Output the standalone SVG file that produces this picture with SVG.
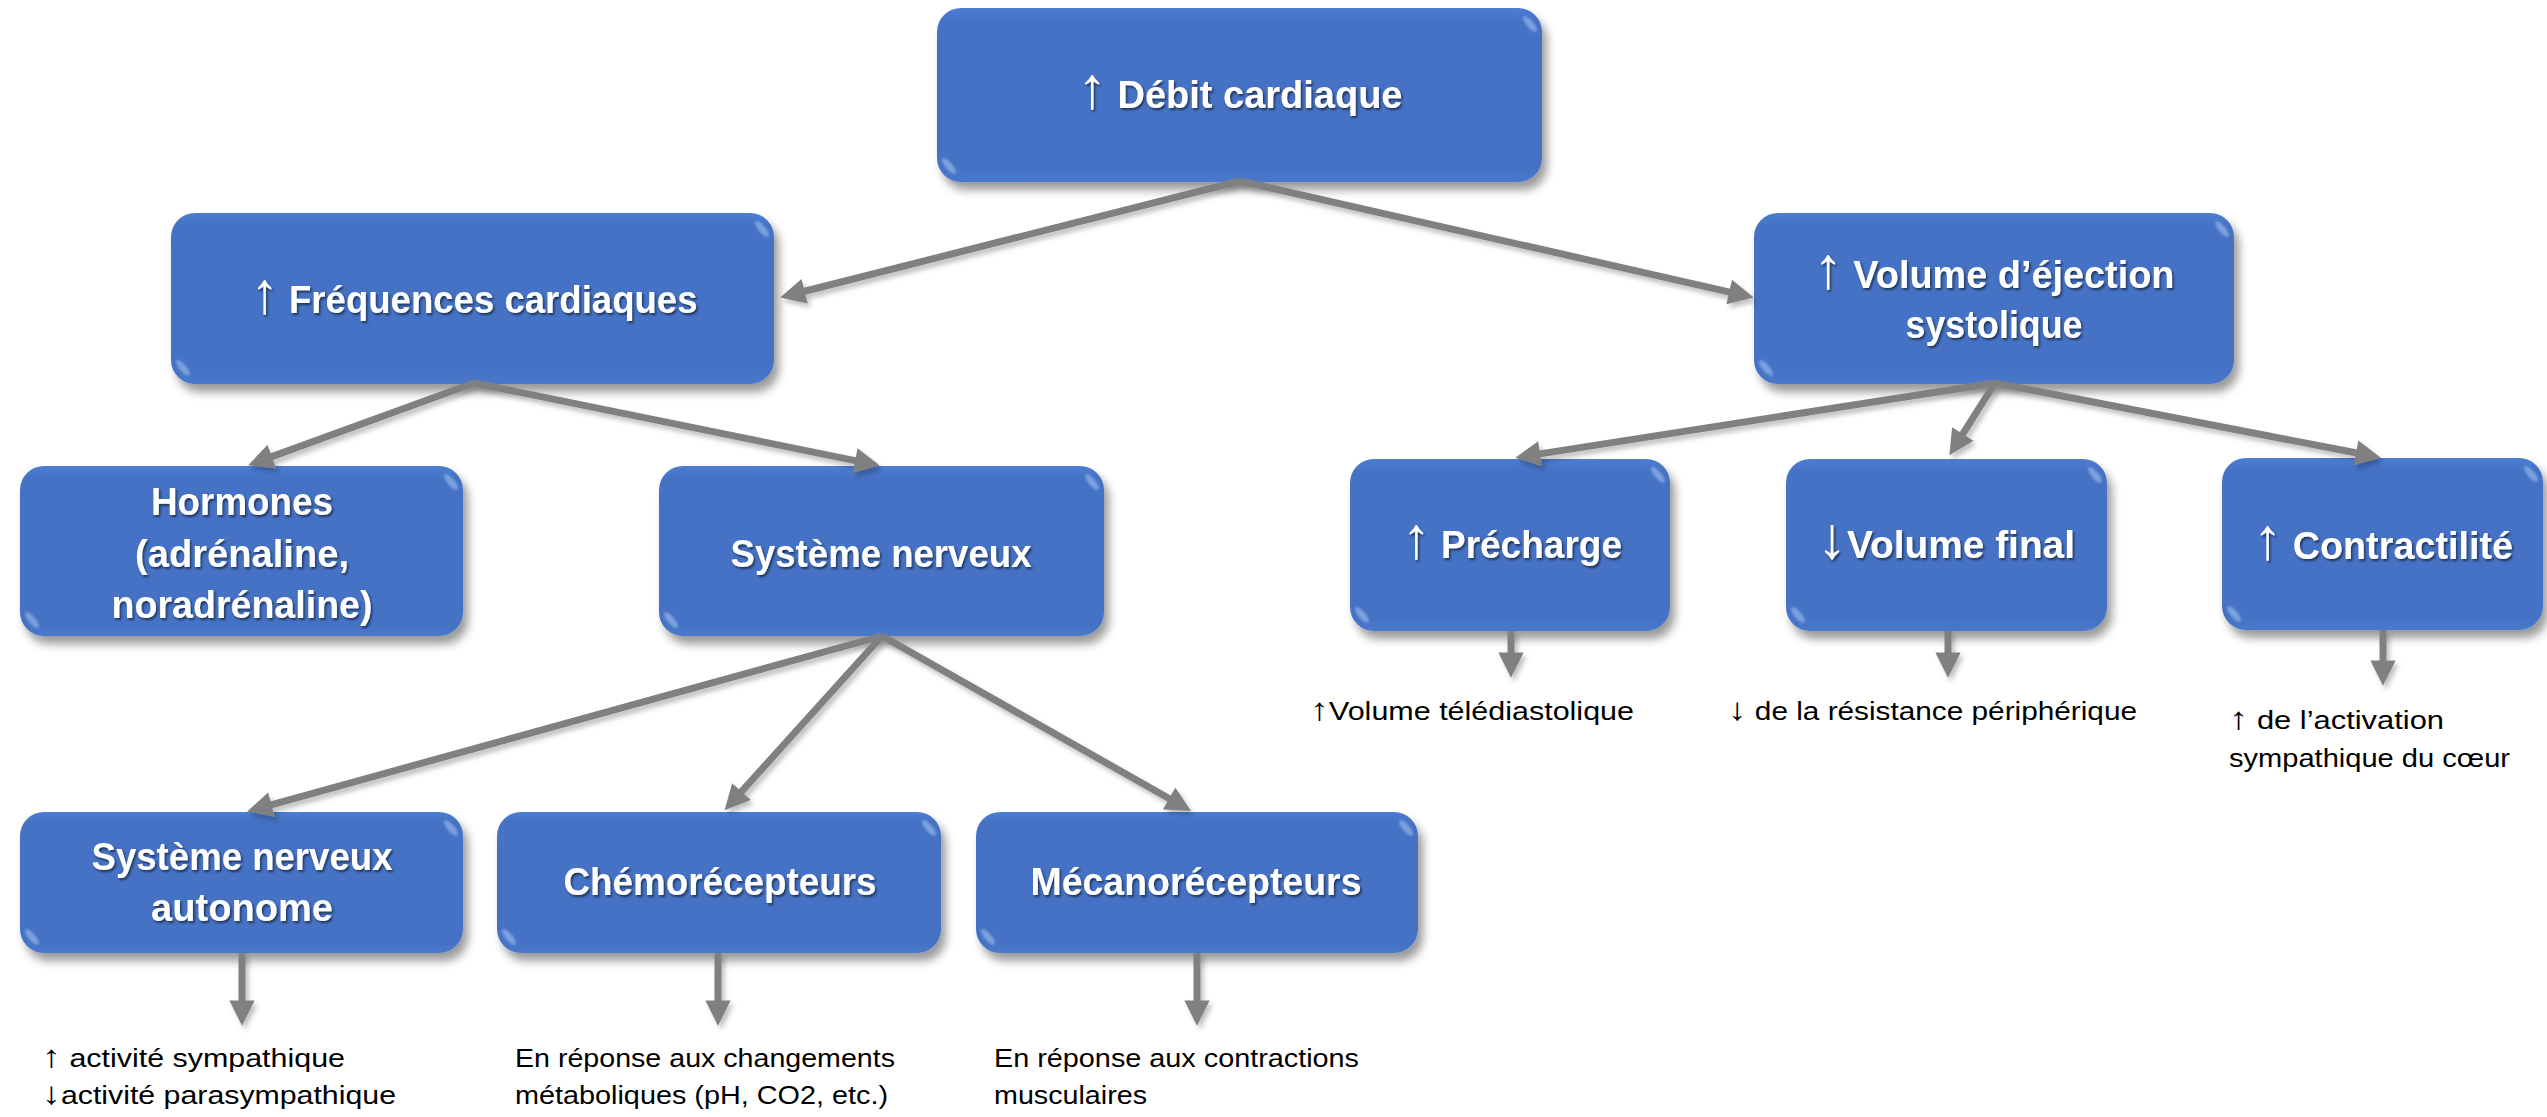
<svg xmlns="http://www.w3.org/2000/svg" width="2547" height="1117" viewBox="0 0 2547 1117">
<defs>
<style>
.box{fill:url(#boxGrad);filter:url(#boxShadow);}
.glint{fill:#a9c8f5;opacity:0.55;filter:url(#soft);}
.lbl{font-family:"Liberation Sans",Arial,sans-serif;font-weight:bold;font-size:38px;fill:#ffffff;text-anchor:middle;filter:url(#txtShadow);}
.note{font-family:"Liberation Sans",Arial,sans-serif;font-size:25px;fill:#000000;}
.ar{font-family:"Liberation Sans",sans-serif;font-weight:normal;font-size:155%;}
.ars{font-family:"Liberation Sans",sans-serif;font-size:125%;}
.conn{stroke:#808080;stroke-width:7;fill:none;marker-end:url(#arr);}
</style>
<linearGradient id="boxGrad" x1="0" y1="0" x2="0" y2="1">
<stop offset="0" stop-color="#4d7dd3"/>
<stop offset="0.07" stop-color="#4472c4"/>
<stop offset="0.93" stop-color="#4472c4"/>
<stop offset="1" stop-color="#4a79cc"/>
</linearGradient>
<filter id="boxShadow" x="-10%" y="-10%" width="125%" height="135%">
<feGaussianBlur in="SourceAlpha" stdDeviation="5"/>
<feOffset dx="5" dy="8" result="o"/>
<feComponentTransfer><feFuncA type="linear" slope="0.4"/></feComponentTransfer>
<feMerge><feMergeNode/><feMergeNode in="SourceGraphic"/></feMerge>
</filter>
<filter id="txtShadow" x="-5%" y="-20%" width="110%" height="150%">
<feDropShadow dx="1.5" dy="2" stdDeviation="1" flood-color="#000000" flood-opacity="0.55"/>
</filter>
<filter id="lineShadow" x="-5%" y="-5%" width="110%" height="115%">
<feDropShadow dx="3" dy="4" stdDeviation="2.5" flood-color="#000000" flood-opacity="0.25"/>
</filter>
<filter id="soft"><feGaussianBlur stdDeviation="1.2"/></filter>
<marker id="arr" viewBox="0 0 10 10" refX="2" refY="5" markerWidth="4" markerHeight="3.6" markerUnits="strokeWidth" orient="auto">
<path d="M0,0 L10,5 L0,10 z" fill="#808080"/>
</marker>
</defs>
<rect width="2547" height="1117" fill="#ffffff"/>

<g id="n-debit">
<rect class="box" x="937" y="8" width="605" height="174" rx="24"/>
<ellipse class="glint" cx="1530" cy="24" rx="3.5" ry="10" transform="rotate(-40 1530 24)"/>
<ellipse class="glint" cx="949" cy="166" rx="3.5" ry="10" transform="rotate(-40 949 166)"/>
<text class="lbl" x="1240" y="108" textLength="325" lengthAdjust="spacingAndGlyphs"><tspan class="ar">↑</tspan> Débit cardiaque</text>
</g>
<g id="n-frequences">
<rect class="box" x="171" y="213" width="603" height="171" rx="24"/>
<ellipse class="glint" cx="762" cy="229" rx="3.5" ry="10" transform="rotate(-40 762 229)"/>
<ellipse class="glint" cx="183" cy="368" rx="3.5" ry="10" transform="rotate(-40 183 368)"/>
<text class="lbl" x="474" y="313" textLength="447" lengthAdjust="spacingAndGlyphs"><tspan class="ar">↑</tspan> Fréquences cardiaques</text>
</g>
<g id="n-volume">
<rect class="box" x="1754" y="213" width="480" height="171" rx="24"/>
<ellipse class="glint" cx="2222" cy="229" rx="3.5" ry="10" transform="rotate(-40 2222 229)"/>
<ellipse class="glint" cx="1766" cy="368" rx="3.5" ry="10" transform="rotate(-40 1766 368)"/>
<text class="lbl" x="1994" y="288" textLength="361" lengthAdjust="spacingAndGlyphs"><tspan class="ar">↑</tspan> Volume d’éjection</text>
<text class="lbl" x="1994" y="338" textLength="177" lengthAdjust="spacingAndGlyphs">systolique</text>
</g>
<g id="n-hormones">
<rect class="box" x="20" y="466" width="443" height="170" rx="24"/>
<ellipse class="glint" cx="451" cy="482" rx="3.5" ry="10" transform="rotate(-40 451 482)"/>
<ellipse class="glint" cx="32" cy="620" rx="3.5" ry="10" transform="rotate(-40 32 620)"/>
<text class="lbl" x="242" y="515" textLength="182" lengthAdjust="spacingAndGlyphs">Hormones</text>
<text class="lbl" x="242" y="567" textLength="214" lengthAdjust="spacingAndGlyphs">(adrénaline,</text>
<text class="lbl" x="242" y="618" textLength="261" lengthAdjust="spacingAndGlyphs">noradrénaline)</text>
</g>
<g id="n-systeme-nerveux">
<rect class="box" x="659" y="466" width="445" height="170" rx="24"/>
<ellipse class="glint" cx="1092" cy="482" rx="3.5" ry="10" transform="rotate(-40 1092 482)"/>
<ellipse class="glint" cx="671" cy="620" rx="3.5" ry="10" transform="rotate(-40 671 620)"/>
<text class="lbl" x="881" y="567" textLength="301" lengthAdjust="spacingAndGlyphs">Système nerveux</text>
</g>
<g id="n-precharge">
<rect class="box" x="1350" y="459" width="320" height="172" rx="24"/>
<ellipse class="glint" cx="1658" cy="475" rx="3.5" ry="10" transform="rotate(-40 1658 475)"/>
<ellipse class="glint" cx="1362" cy="615" rx="3.5" ry="10" transform="rotate(-40 1362 615)"/>
<text class="lbl" x="1512" y="558" textLength="220" lengthAdjust="spacingAndGlyphs"><tspan class="ar">↑</tspan> Précharge</text>
</g>
<g id="n-volume-final">
<rect class="box" x="1786" y="459" width="321" height="172" rx="24"/>
<ellipse class="glint" cx="2095" cy="475" rx="3.5" ry="10" transform="rotate(-40 2095 475)"/>
<ellipse class="glint" cx="1798" cy="615" rx="3.5" ry="10" transform="rotate(-40 1798 615)"/>
<text class="lbl" x="1946" y="558" textLength="258" lengthAdjust="spacingAndGlyphs"><tspan class="ar">↓</tspan>Volume final</text>
</g>
<g id="n-contractilite">
<rect class="box" x="2222" y="458" width="321" height="172" rx="24"/>
<ellipse class="glint" cx="2531" cy="474" rx="3.5" ry="10" transform="rotate(-40 2531 474)"/>
<ellipse class="glint" cx="2234" cy="614" rx="3.5" ry="10" transform="rotate(-40 2234 614)"/>
<text class="lbl" x="2383" y="559" textLength="260" lengthAdjust="spacingAndGlyphs"><tspan class="ar">↑</tspan> Contractilité</text>
</g>
<g id="n-sna">
<rect class="box" x="20" y="812" width="443" height="141" rx="24"/>
<ellipse class="glint" cx="451" cy="828" rx="3.5" ry="10" transform="rotate(-40 451 828)"/>
<ellipse class="glint" cx="32" cy="937" rx="3.5" ry="10" transform="rotate(-40 32 937)"/>
<text class="lbl" x="242" y="870" textLength="301" lengthAdjust="spacingAndGlyphs">Système nerveux</text>
<text class="lbl" x="242" y="921" textLength="182" lengthAdjust="spacingAndGlyphs">autonome</text>
</g>
<g id="n-chemo">
<rect class="box" x="497" y="812" width="444" height="141" rx="24"/>
<ellipse class="glint" cx="929" cy="828" rx="3.5" ry="10" transform="rotate(-40 929 828)"/>
<ellipse class="glint" cx="509" cy="937" rx="3.5" ry="10" transform="rotate(-40 509 937)"/>
<text class="lbl" x="720" y="895" textLength="313" lengthAdjust="spacingAndGlyphs">Chémorécepteurs</text>
</g>
<g id="n-meca">
<rect class="box" x="976" y="812" width="442" height="141" rx="24"/>
<ellipse class="glint" cx="1406" cy="828" rx="3.5" ry="10" transform="rotate(-40 1406 828)"/>
<ellipse class="glint" cx="988" cy="937" rx="3.5" ry="10" transform="rotate(-40 988 937)"/>
<text class="lbl" x="1196" y="895" textLength="331" lengthAdjust="spacingAndGlyphs">Mécanorécepteurs</text>
</g>

<g id="notes">
<g id="t-precharge"><text class="note" x="1310" y="720" textLength="324" lengthAdjust="spacingAndGlyphs"><tspan class="ars">↑</tspan>Volume télédiastolique</text></g>
<g id="t-volume-final"><text class="note" x="1728" y="720" textLength="409" lengthAdjust="spacingAndGlyphs"><tspan class="ars">↓</tspan> de la résistance périphérique</text></g>
<g id="t-contractilite">
<text class="note" x="2229" y="729" textLength="215" lengthAdjust="spacingAndGlyphs"><tspan class="ars">↑</tspan> de l’activation</text>
<text class="note" x="2229" y="767" textLength="281" lengthAdjust="spacingAndGlyphs">sympathique du cœur</text>
</g>
<g id="t-sna">
<text class="note" x="42" y="1067" textLength="303" lengthAdjust="spacingAndGlyphs"><tspan class="ars">↑</tspan> activité sympathique</text>
<text class="note" x="42" y="1104" textLength="354" lengthAdjust="spacingAndGlyphs"><tspan class="ars">↓</tspan>activité parasympathique</text>
</g>
<g id="t-chemo">
<text class="note" x="515" y="1067" textLength="380" lengthAdjust="spacingAndGlyphs">En réponse aux changements</text>
<text class="note" x="515" y="1104" textLength="373" lengthAdjust="spacingAndGlyphs">métaboliques (pH, CO2, etc.)</text>
</g>
<g id="t-meca">
<text class="note" x="994" y="1067" textLength="365" lengthAdjust="spacingAndGlyphs">En réponse aux contractions</text>
<text class="note" x="994" y="1104" textLength="153" lengthAdjust="spacingAndGlyphs">musculaires</text>
</g>
</g>

<g id="connectors" filter="url(#lineShadow)">
<line class="conn" x1="1240" y1="181" x2="799.7" y2="292.5"/>
<line class="conn" x1="1240" y1="181" x2="1734.1" y2="293.1"/>
<line class="conn" x1="474" y1="383" x2="267.1" y2="458.4"/>
<line class="conn" x1="474" y1="383" x2="860.0" y2="461.6"/>
<line class="conn" x1="1995" y1="383" x2="1535.1" y2="454.6"/>
<line class="conn" x1="1995" y1="383" x2="1960.1" y2="438.2"/>
<line class="conn" x1="1995" y1="383" x2="2361.0" y2="453.8"/>
<line class="conn" x1="882" y1="636" x2="266.6" y2="806.1"/>
<line class="conn" x1="882" y1="636" x2="738.1" y2="795.4"/>
<line class="conn" x1="882" y1="636" x2="1173.5" y2="801.0"/>
<line class="conn" x1="1511" y1="631" x2="1511" y2="657.6"/>
<line class="conn" x1="1948" y1="631" x2="1948" y2="657.6"/>
<line class="conn" x1="2383" y1="630" x2="2383" y2="665.6"/>
<line class="conn" x1="242" y1="953" x2="242" y2="1005.6"/>
<line class="conn" x1="718" y1="953" x2="718" y2="1005.6"/>
<line class="conn" x1="1197" y1="953" x2="1197" y2="1005.6"/>
</g>
</svg>
